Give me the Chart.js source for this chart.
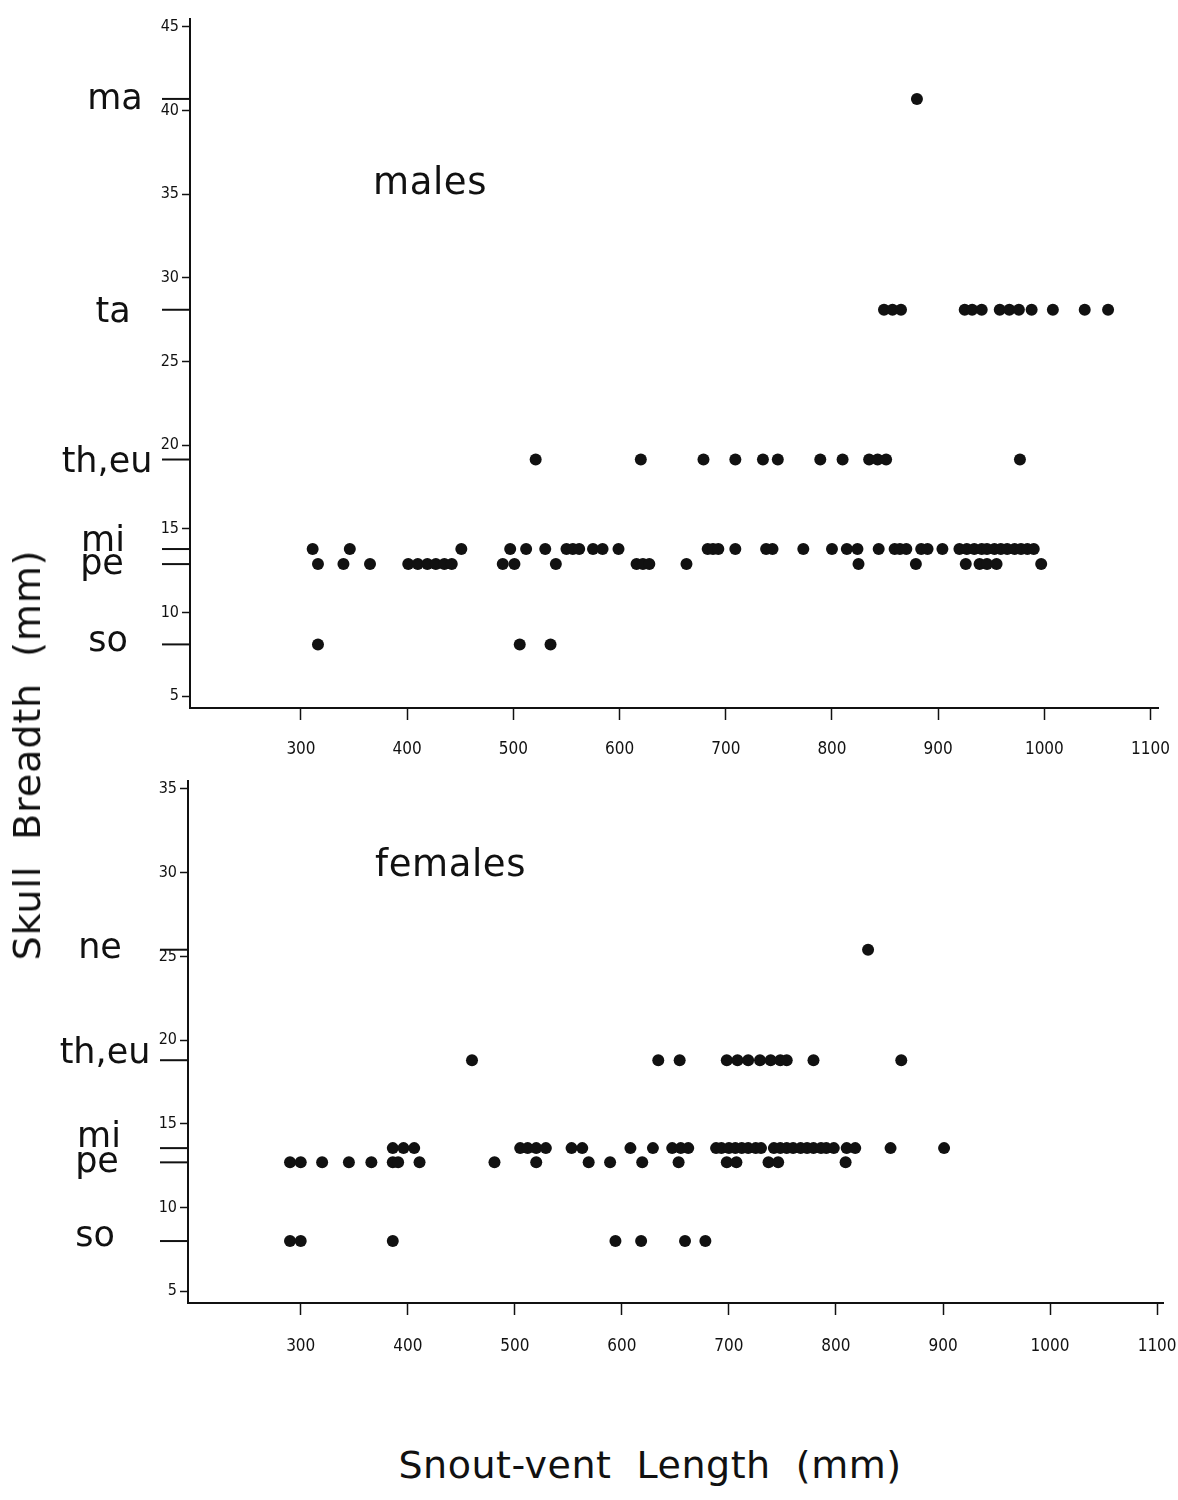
<!DOCTYPE html>
<html>
<head>
<meta charset="utf-8">
<title>Skull Breadth vs Snout-vent Length</title>
<script src="https://cdn.jsdelivr.net/npm/chart.js@4.4.1/dist/chart.umd.min.js"></script>
<style>
    html, body { margin: 0; padding: 0; background: #fff; }
    #page { position: relative; width: 1178px; height: 1500px; overflow: hidden; color: #111; font-family: 'DejaVu Sans', sans-serif; }
    #page canvas { position: absolute; left: 0; }
    #malesChart { top: 0; }
    #femalesChart { top: 770px; }
    .panel-label { position: absolute; font-size: 37px; line-height: 37px; letter-spacing: 0.6px; white-space: pre; }
    .axis-title { position: absolute; font-size: 38px; line-height: 38px; white-space: pre; transform: translate(-50%, -50%); }
</style>
</head>
<body>
<div id="page">
    <canvas id="malesChart" width="1178" height="780"></canvas>
    <canvas id="femalesChart" width="1178" height="620"></canvas>
    <div class="panel-label" style="left:373px; top:163px;">males</div>
    <div class="panel-label" style="left:375px; top:845px;">females</div>
    <div class="axis-title" style="left:27px; top:755px; transform: translate(-50%, -50%) rotate(-90deg); letter-spacing:0.9px;">Skull  Breadth  (mm)</div>
    <div class="axis-title" style="left:650px; top:1465px; letter-spacing:0.5px;">Snout-vent  Length  (mm)</div>
</div>
<script>
// Axis ticks
const lengthTicks = [300, 400, 500, 600, 700, 800, 900, 1000, 1100];
const maleBreadthTicks = [5, 10, 15, 20, 25, 30, 35, 40, 45];
const femaleBreadthTicks = [5, 10, 15, 20, 25, 30, 35];

// Males: prey groups marked on the breadth axis, and the breadth of each row
const maleGroups = ['ma', 'ta', 'th,eu', 'mi', 'pe', 'so'];
const maleBreadths = [40.7, 28.1, 19.15, 13.8, 12.9, 8.1];

// Males: snout-vent lengths (mm) of the animals in each row
const maleMa = [880];
const maleTa = [849, 857, 865, 925, 932, 941, 958, 967, 976, 988, 1008, 1038, 1060];
const maleTh = [521, 620, 679, 709, 735, 749, 789, 810, 835, 843, 851, 977];
const maleMi = [311, 346, 451, 497, 512, 530, 550, 556, 562, 575, 584, 599, 683, 688, 693, 709, 738, 744,
                773, 800, 814, 824, 844, 859, 864, 870, 884, 890, 904, 920, 927, 934, 941, 946, 953, 959,
                965, 972, 978, 984, 990];
const malePe = [316, 340, 365, 401, 410, 419, 427, 435, 442, 490, 501, 540, 616, 622, 628, 663, 825, 879,
                926, 939, 946, 955, 997];
const maleSo = [316, 506, 535];

// Females
const femaleGroups = ['ne', 'th,eu', 'mi', 'pe', 'so'];
const femaleBreadths = [25.4, 18.8, 13.55, 12.7, 8.0];

const femaleNe = [830];
const femaleTh = [460, 634, 654, 698, 708, 718, 729, 739, 748, 754, 779, 861];
const femaleMi = [386, 396, 406, 505, 512, 520, 529, 553, 563, 608, 629, 647, 655, 662, 688, 693, 700, 706,
                  712, 718, 725, 730, 742, 748, 754, 760, 767, 773, 779, 786, 791, 798, 810, 818, 851, 901];
const femalePe = [290, 300, 320, 345, 366, 386, 391, 411, 481, 520, 569, 589, 619, 653, 698, 707, 737, 746, 809];
const femaleSo = [290, 300, 386, 594, 618, 659, 678];

const INK = '#111';
const TICK_FONT = '"DejaVu Sans Condensed", "DejaVu Sans", sans-serif';

/**
 * Turn rows of lengths into scatter points at each row's breadth
 */
function buildPoints(breadths, rows) {
    const points = [];
    rows.forEach((lengths, i) => {
        lengths.forEach(len => points.push({ x: len, y: breadths[i] }));
    });
    return points;
}

/**
 * Draws the long group ticks and their names left of the y axis
 */
function groupMarks(names, breadths, labelX, labelDy) {
    return {
        id: 'groupMarks',
        afterDraw(chart) {
            const { ctx, chartArea, scales } = chart;
            ctx.save();
            ctx.strokeStyle = INK;
            ctx.fillStyle = INK;
            ctx.lineWidth = 2;
            ctx.font = '35px "DejaVu Sans", sans-serif';
            ctx.textAlign = 'center';
            ctx.textBaseline = 'alphabetic';
            names.forEach((name, i) => {
                const py = scales.y.getPixelForValue(breadths[i]);
                ctx.beginPath();
                ctx.moveTo(chartArea.left - 28, py);
                ctx.lineTo(chartArea.left, py);
                ctx.stroke();
                ctx.fillText(name, labelX[i], py + labelDy[i]);
            });
            ctx.restore();
        }
    };
}

function makePanel(canvasId, cfg) {
    return new Chart(document.getElementById(canvasId), {
        type: 'scatter',
        data: {
            datasets: [{
                data: cfg.points,
                pointRadius: 6,
                pointHoverRadius: 6,
                backgroundColor: INK,
                borderWidth: 0
            }]
        },
        options: {
            responsive: false,
            animation: false,
            events: [],
            layout: { padding: cfg.padding },
            plugins: {
                legend: { display: false },
                tooltip: { enabled: false }
            },
            scales: {
                x: {
                    type: 'linear',
                    min: cfg.xMin,
                    max: cfg.xMax,
                    afterBuildTicks: s => { s.ticks = lengthTicks.map(v => ({ value: v })); },
                    afterFit: s => {
                        // fixed axis box, no extra room for the end labels
                        s.height = cfg.xAxisHeight;
                        s.paddingLeft = 0;
                        s.paddingRight = 0;
                    },
                    grid: { drawOnChartArea: false, drawTicks: true, tickLength: 12, tickWidth: 1.5, tickColor: INK },
                    border: { display: true, color: INK, width: 2 },
                    ticks: {
                        color: INK,
                        padding: cfg.xLabelPad,
                        maxRotation: 0,
                        autoSkip: false,
                        font: { family: TICK_FONT, size: 17 },
                        callback: v => String(v)
                    }
                },
                y: {
                    type: 'linear',
                    min: cfg.yMin,
                    max: cfg.yMax,
                    afterBuildTicks: s => { s.ticks = cfg.yTicks.map(v => ({ value: v })); },
                    afterFit: s => {
                        s.width = cfg.yAxisWidth;
                        s.paddingTop = 0;
                        s.paddingBottom = 0;
                    },
                    grid: { drawOnChartArea: false, drawTicks: true, tickLength: 8, tickWidth: 1.5, tickColor: INK },
                    border: { display: true, color: INK, width: 2 },
                    ticks: {
                        color: INK,
                        padding: 3,
                        autoSkip: false,
                        font: { family: TICK_FONT, size: 16 },
                        callback: v => String(v)
                    }
                }
            }
        },
        plugins: [groupMarks(cfg.groups, cfg.breadths, cfg.labelX, cfg.labelDy)]
    });
}

makePanel('malesChart', {
    points: buildPoints(maleBreadths, [maleMa, maleTa, maleTh, maleMi, malePe, maleSo]),
    groups: maleGroups,
    breadths: maleBreadths,
    labelX: [115, 113, 107, 103, 102, 108],
    labelDy: [10, 12, 12, 2, 10, 7],
    padding: { left: 0, right: 20, top: 18.6, bottom: 0 },
    xMin: 195.5, xMax: 1107,
    yMin: 4.3, yMax: 45.5,
    yTicks: maleBreadthTicks,
    xAxisHeight: 72,
    yAxisWidth: 190,
    xLabelPad: 19
});

makePanel('femalesChart', {
    points: buildPoints(femaleBreadths, [femaleNe, femaleTh, femaleMi, femalePe, femaleSo]),
    groups: femaleGroups,
    breadths: femaleBreadths,
    labelX: [100, 105, 99, 97, 95],
    labelDy: [8, 3, -1, 10, 5],
    padding: { left: 0, right: 15, top: 10.6, bottom: 0 },
    xMin: 194.7, xMax: 1105.5,
    yMin: 4.3, yMax: 35.5,
    yTicks: femaleBreadthTicks,
    xAxisHeight: 87,
    yAxisWidth: 188,
    xLabelPad: 21
});
</script>
</body>
</html>
